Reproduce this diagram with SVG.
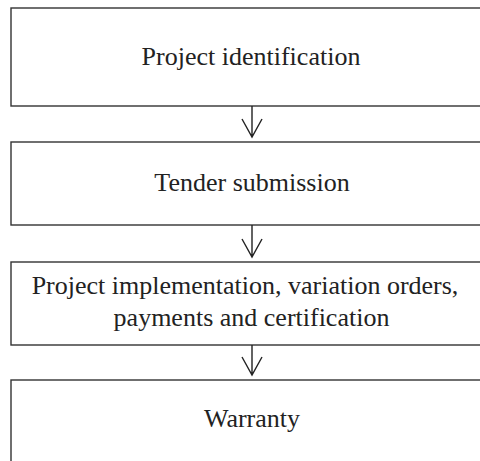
<svg xmlns="http://www.w3.org/2000/svg" width="480" height="461" viewBox="0 0 480 461">
<style>
.box{fill:#fff;stroke:#333;stroke-width:1.4}
.t{font-family:"Liberation Serif","Times New Roman",serif;font-size:26px;fill:#222;text-anchor:middle}
.c{stroke:#222;stroke-width:1.4;fill:none}
</style>
<rect width="480" height="461" fill="#fff"/>
<g id="n1"><rect class="box" x="11" y="8" width="480" height="98"/><text class="t" x="251" y="65">Project identification</text></g>
<g id="n2"><rect class="box" x="11" y="142" width="480" height="83"/><text class="t" x="252" y="191">Tender submission</text></g>
<g id="n3"><rect class="box" x="11" y="262" width="480" height="83"/><text class="t" x="245" y="294">Project implementation, variation orders,</text><text class="t" x="251.5" y="326">payments and certification</text></g>
<g id="n4"><rect class="box" x="11" y="380" width="480" height="100"/><text class="t" x="252" y="427">Warranty</text></g>
<g id="connectors">
<path class="c" d="M252 106V137M242 119L252 137L262 119"/>
<path class="c" d="M252 225V257M242 239L252 257L262 239"/>
<path class="c" d="M252 345V375M242 357L252 375L262 357"/>
</g>
</svg>
